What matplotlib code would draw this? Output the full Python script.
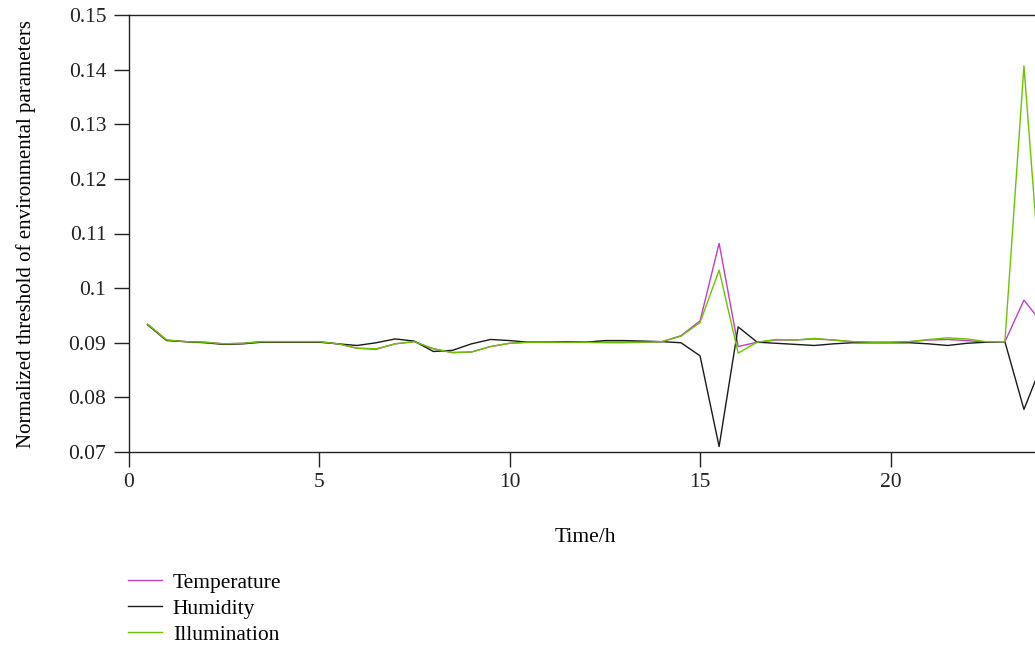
import numpy as np
import matplotlib
matplotlib.use("Agg")
import matplotlib.pyplot as plt

# ------------------------------------------------------
# DATA
# ------------------------------------------------------
time_h = np.arange(0.5, 24.01, 0.5)

temperature = [0.0934, 0.0905, 0.0902, 0.0901, 0.0898, 0.0899, 0.0902, 0.0902,
               0.0902, 0.0902, 0.0898, 0.0890, 0.0888, 0.0898, 0.0902, 0.0889,
               0.0882, 0.0883, 0.0893, 0.0899, 0.0901, 0.0901, 0.0901, 0.0901,
               0.0901, 0.0901, 0.0901, 0.0902, 0.0913, 0.0940, 0.1082, 0.0893,
               0.0901, 0.0905, 0.0905, 0.0907, 0.0905, 0.0902, 0.0901, 0.0901,
               0.0902, 0.0905, 0.0906, 0.0904, 0.0901, 0.0902, 0.0978, 0.0934]

humidity = [0.0933, 0.0904, 0.0902, 0.0900, 0.0897, 0.0898, 0.0901, 0.0901,
            0.0901, 0.0901, 0.0898, 0.0895, 0.0900, 0.0907, 0.0903, 0.0884,
            0.0886, 0.0898, 0.0906, 0.0904, 0.0901, 0.0901, 0.0902, 0.0901,
            0.0904, 0.0904, 0.0903, 0.0902, 0.0900, 0.0876, 0.0710, 0.0929,
            0.0901, 0.0899, 0.0897, 0.0895, 0.0898, 0.0900, 0.0900, 0.0900,
            0.0900, 0.0898, 0.0895, 0.0899, 0.0901, 0.0902, 0.0778, 0.0866]

illumination = [0.0934, 0.0905, 0.0902, 0.0901, 0.0898, 0.0899, 0.0902, 0.0902,
                0.0902, 0.0902, 0.0898, 0.0890, 0.0889, 0.0898, 0.0902, 0.0889,
                0.0882, 0.0883, 0.0893, 0.0899, 0.0901, 0.0901, 0.0901, 0.0901,
                0.0900, 0.0900, 0.0901, 0.0902, 0.0912, 0.0937, 0.1033, 0.0881,
                0.0901, 0.0906, 0.0905, 0.0908, 0.0905, 0.0902, 0.0901, 0.0901,
                0.0902, 0.0906, 0.0909, 0.0907, 0.0902, 0.0902, 0.1407, 0.0948]

x_ticks = [0, 5, 10, 15, 20]
y_ticks = [0.07, 0.08, 0.09, 0.1, 0.11, 0.12, 0.13, 0.14, 0.15]
y_tick_labels = ["0.07", "0.08", "0.09", "0.1", "0.11", "0.12", "0.13", "0.14", "0.15"]

# ------------------------------------------------------
# PLOTTING
# ------------------------------------------------------
plt.rcParams["font.family"] = ["Liberation Serif", "DejaVu Serif"]

W, H = 1035, 650
fs = 15.5
fig = plt.figure(figsize=(W / 100, H / 100), dpi=100)

# axes runs a little past the right edge of the figure (cropped like the reference)
left, right, top, bottom = 128.5, 1043, 15, 452
ax = fig.add_axes([left / W, 1 - bottom / H, (right - left) / W, (bottom - top) / H])

ax.plot(time_h, temperature, color="#c23ec2", linewidth=1.0, label="Temperature")
ax.plot(time_h, humidity, color="#1a1a1a", linewidth=1.0, label="Humidity")
ax.plot(time_h, illumination, color="#6cc400", linewidth=1.0, label="Illumination")

ax.set_xlim(0, 24)
ax.set_ylim(0.07, 0.15)
ax.set_xticks(x_ticks)
ax.set_yticks(y_ticks)
ax.set_yticklabels(y_tick_labels)
ax.tick_params(direction="out", length=11, width=1.0, labelsize=fs, colors="#222222")
ax.tick_params(axis="x", pad=4)
ax.tick_params(axis="y", pad=5)
for s in ax.spines.values():
    s.set_color("#222222")
    s.set_linewidth(1.0)

ax.set_xlabel("Time/h", fontsize=fs, labelpad=26)
ax.set_ylabel("Normalized threshold of environmental parameters", fontsize=15, labelpad=23)

fig.legend(loc="upper left", bbox_to_anchor=(119.5 / W, 1 - 564 / H), frameon=False,
           fontsize=fs, handlelength=1.58, handletextpad=0.5, labelspacing=0.28,
           borderaxespad=0)

fig.savefig("out.png", dpi=100)
